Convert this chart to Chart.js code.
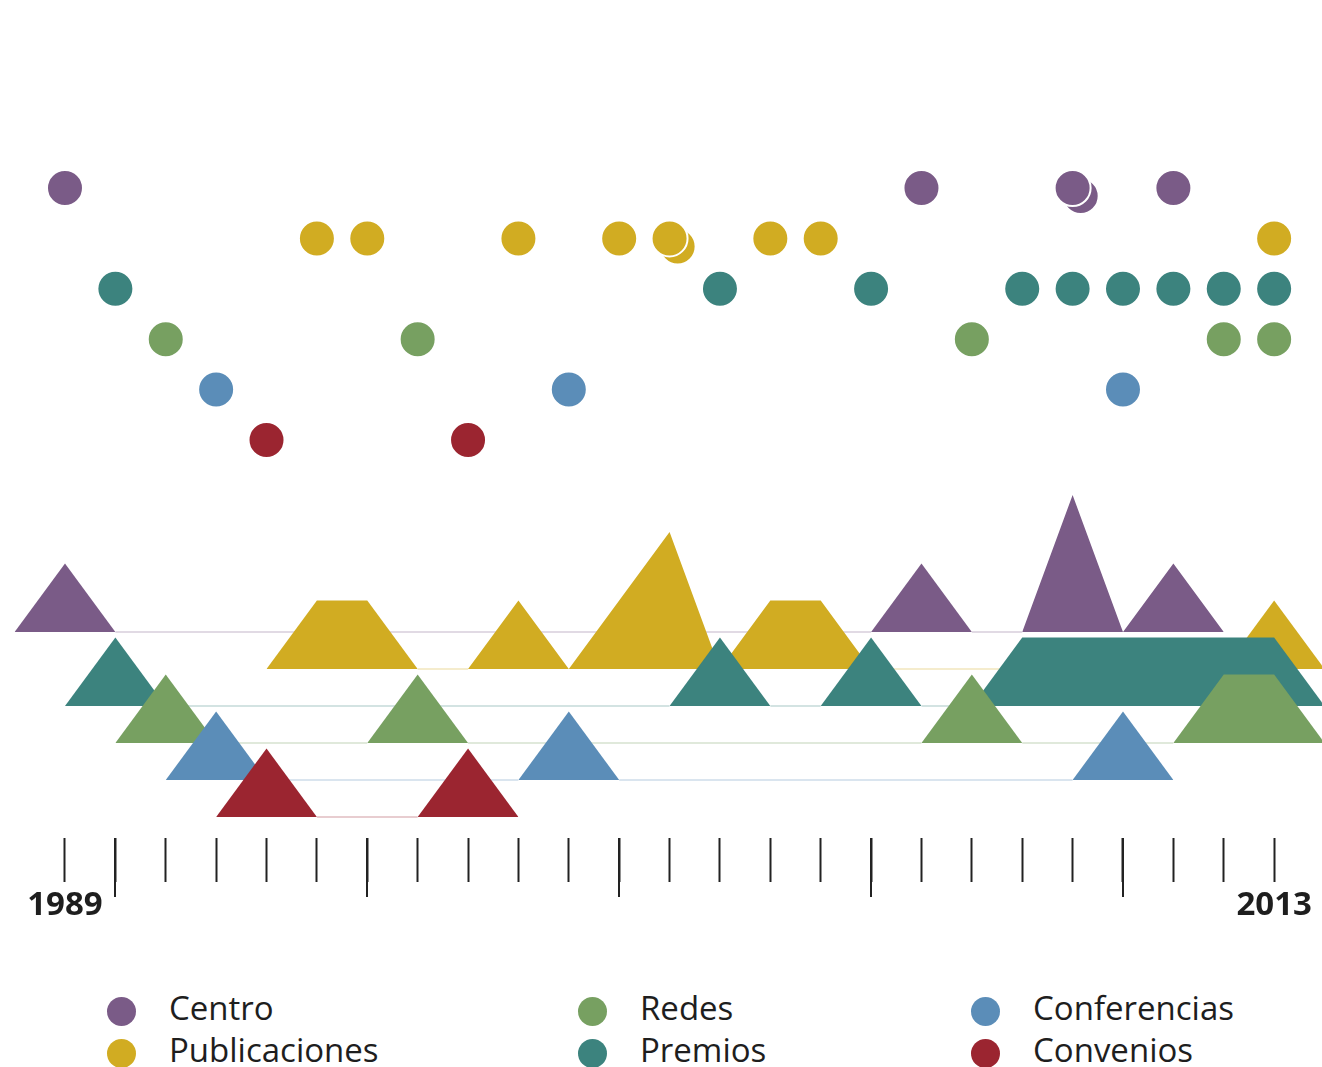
<!DOCTYPE html>
<html>
<head>
<meta charset="utf-8">
<title>Actividades 1989-2013</title>
<script src="https://cdn.jsdelivr.net/npm/chart.js@4.4.1/dist/chart.umd.min.js"></script>
<style>
    html, body { margin: 0; padding: 0; background: #fff; overflow: hidden; }
    #chart-box { position: absolute; left: 0; top: 0; width: 1322px; height: 930px; }
    #legend {
        position: absolute; left: 107px; top: 987px;
        display: grid; grid-template-columns: 471px 393px auto; grid-template-rows: 42px 42px; grid-auto-flow: column;
        font-family: "Open Sans", sans-serif; font-size: 33px; font-weight: 500; color: #1e1e1e;
    }
    #legend .item { display: flex; align-items: center; height: 42px; line-height: 42px; }
    #legend .dot { width: 29px; height: 29px; border-radius: 50%; margin-right: 33px; flex: none; position: relative; top: 3px; }
</style>
</head>
<body>
<div id="chart-box"><canvas id="timeline"></canvas></div>
<div id="legend"></div>
<script>
    // one entry per event; a repeated year means two events that year
    var categories = ['Centro', 'Publicaciones', 'Premios', 'Redes', 'Conferencias', 'Convenios'];
    var centro        = [1989, 2006, 2009, 2009, 2011];
    var publicaciones = [1994, 1995, 1998, 2000, 2001, 2001, 2003, 2004, 2013];
    var premios       = [1990, 2002, 2005, 2008, 2009, 2010, 2011, 2012, 2013];
    var redes         = [1991, 1996, 2007, 2012, 2013];
    var conferencias  = [1992, 1999, 2010];
    var convenios     = [1993, 1997];
    var events = [centro, publicaciones, premios, redes, conferencias, convenios];

    var legendOrder = ['Centro', 'Publicaciones', 'Redes', 'Premios', 'Conferencias', 'Convenios'];
    var firstYear = 1989, lastYear = 2013;
    var labeledYears = [1989, 2013];
    var majorYears = [1990, 1995, 2000, 2005, 2010];

    var colors = ['#7a5b87', '#d1ac22', '#3c837e', '#77a061', '#5b8db8', '#9b2530'];

    // layout (pixel units of the reversed y axis)
    var X_MIN = 1987.71, X_MAX = 2013.95;
    var DOT_TOP = 188, DOT_STEP = 50.4;
    var RIDGE_TOP = 632, RIDGE_STEP = 37, RIDGE_UNIT = 68.5;
    var DUP_DX = 0.16, DUP_DY = 8;

    var datasets = [];
    categories.forEach(function (name, i) {
        var counts = {};
        events[i].forEach(function (yr) { counts[yr] = (counts[yr] || 0) + 1; });
        var yrs = Object.keys(counts).map(Number).sort(function (a, b) { return a - b; });

        // dots: repeated events are stacked slightly behind
        var dots = [];
        yrs.forEach(function (yr) {
            for (var k = counts[yr] - 1; k >= 0; k--) {
                dots.push({x: yr + k * DUP_DX, y: DOT_TOP + i * DOT_STEP + k * DUP_DY});
            }
        });
        datasets.push({
            type: 'scatter', label: name, data: dots,
            backgroundColor: colors[i], borderColor: '#fff', borderWidth: 2,
            pointRadius: 18, pointHoverRadius: 18, order: 0
        });

        // ridge: height proportional to number of events that year
        var base = RIDGE_TOP + i * RIDGE_STEP;
        var ridge = [];
        for (var yr = yrs[0] - 1; yr <= yrs[yrs.length - 1] + 1; yr++) {
            ridge.push({x: yr, y: base - (counts[yr] || 0) * RIDGE_UNIT});
        }
        datasets.push({
            type: 'line', label: name, data: ridge,
            backgroundColor: colors[i], fill: {value: base},
            borderWidth: 2, pointRadius: 0, tension: 0,
            segment: {
                borderColor: function (ctx) {
                    return (ctx.p0.parsed.y === base && ctx.p1.parsed.y === base) ? colors[i] + '3a' : 'rgba(0,0,0,0)';
                }
            },
            order: 10 - i
        });
    });

    // every fifth year gets a longer tick
    var majorTicks = {
        id: 'majorTicks',
        afterDraw: function (chart) {
            var ctx = chart.ctx, x = chart.scales.x;
            ctx.save();
            ctx.strokeStyle = '#222';
            ctx.lineWidth = 2;
            majorYears.forEach(function (yr) {
                var px = Math.round(x.getPixelForValue(yr) - 1) + 1;
                ctx.beginPath();
                ctx.moveTo(px, x.top);
                ctx.lineTo(px, x.top + 59);
                ctx.stroke();
            });
            ctx.restore();
        }
    };

    new Chart(document.getElementById('timeline'), {
        type: 'scatter',
        data: {datasets: datasets},
        options: {
            responsive: true,
            maintainAspectRatio: false,
            animation: false,
            layout: {padding: 0, autoPadding: false},
            plugins: {legend: {display: false}, tooltip: {enabled: false}},
            scales: {
                x: {
                    type: 'linear', min: X_MIN, max: X_MAX,
                    afterBuildTicks: function (s) {
                        var t = [];
                        for (var yr = firstYear; yr <= lastYear; yr++) t.push({value: yr});
                        s.ticks = t;
                    },
                    afterFit: function (s) { s.height = 92; },
                    border: {display: false},
                    grid: {drawOnChartArea: false, tickLength: 44, tickWidth: 2, tickColor: '#222'},
                    ticks: {
                        autoSkip: false, maxRotation: 0, padding: 4, color: '#1e1e1e',
                        font: {family: 'Open Sans', size: 33, weight: 'bold'},
                        callback: function (v) { return labeledYears.indexOf(v) >= 0 ? String(v) : ''; }
                    }
                },
                y: {display: false, reverse: true, min: 0, max: 838}
            }
        },
        plugins: [majorTicks]
    });

    var legend = document.getElementById('legend');
    legendOrder.forEach(function (name) {
        var c = colors[categories.indexOf(name)];
        legend.innerHTML += '<div class="item"><span class="dot" style="background:' + c + '"></span>' + name + '</div>';
    });
</script>
</body>
</html>
